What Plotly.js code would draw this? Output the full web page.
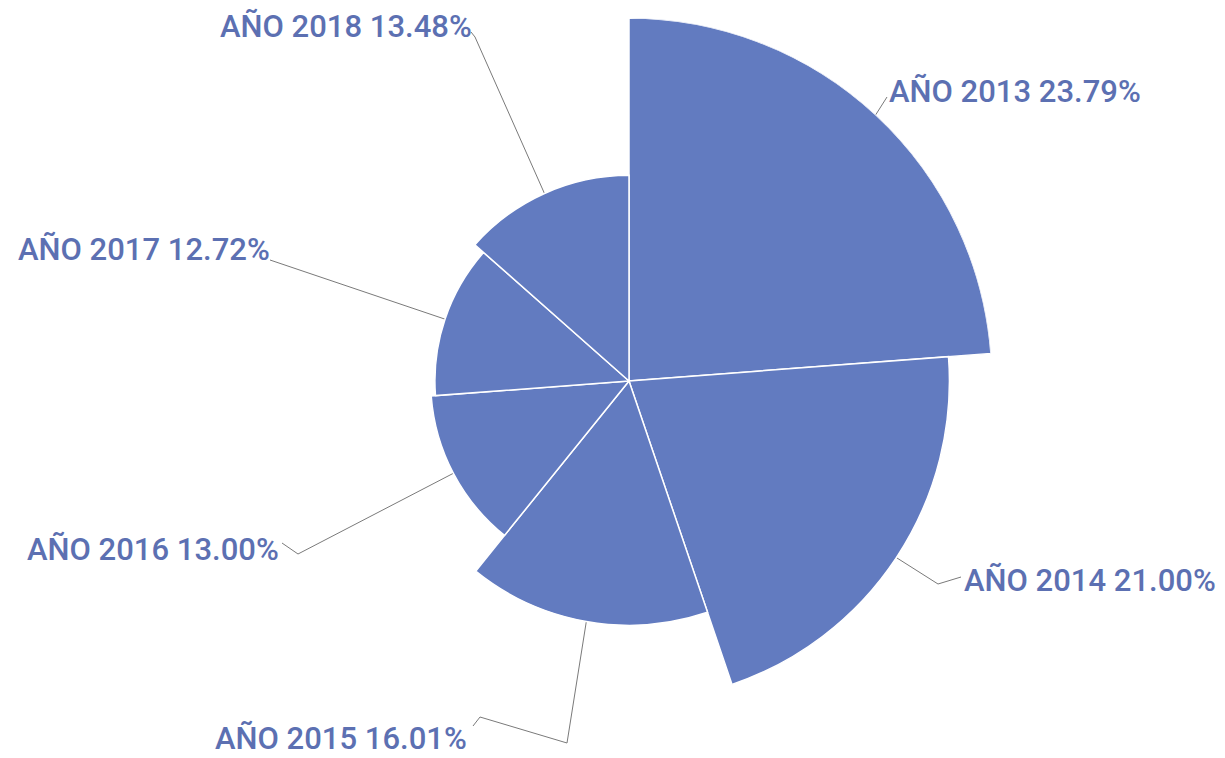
<!DOCTYPE html>
<html>
<head>
<meta charset="utf-8">
<script src="https://cdn.plot.ly/plotly-3.0.1.min.js"></script>
<style>html,body{margin:0;padding:0;background:#fff;}#chart{width:1225px;height:758px;}</style>
</head>
<body>
<div id="chart"></div>
<script>
// ---- data ----
const categories = ["AÑO 2013", "AÑO 2014", "AÑO 2015", "AÑO 2016", "AÑO 2017", "AÑO 2018"];
const values = [23.79, 21.00, 16.01, 13.00, 12.72, 13.48];

// ---- layout constants (pixels) ----
const W = 1225, H = 758;
const CX = 629, CY = 381, R = 363;
const barColor = "rgb(98,123,192)";
const textColor = "rgb(92,112,178)";
const lineColor = "#7a7a7a";

// label placement (text anchor + leader elbow points), pixels
const labelPos = [
  {x: 887, y: 91, anchor: "left",  elbows: [[887, 97]]},
  {x: 962, y: 580, anchor: "left", elbows: [[938, 584], [961, 577]]},
  {x: 469, y: 738, anchor: "right", elbows: [[567, 743], [480, 717], [473, 726]]},
  {x: 281, y: 549, anchor: "right", elbows: [[298, 554], [282, 543]]},
  {x: 272, y: 249, anchor: "right", elbows: [[270, 260]]},
  {x: 474, y: 26, anchor: "right", elbows: [[475, 37], [471, 32]]}
];

const total = values.reduce((a, b) => a + b, 0);
const maxV = Math.max(...values);
let cum = 0;
const thetas = [], widths = [];
values.forEach(v => {
  thetas.push((cum + v / 2) / total * 360);
  widths.push(v / total * 360);
  cum += v;
});

const traces = [{
  type: "barpolar",
  r: values,
  theta: thetas,
  width: widths,
  marker: {color: barColor, line: {color: "#ffffff", width: 1.5}},
  hoverinfo: "none",
  subplot: "polar"
}];

const annotations = [];
values.forEach((v, i) => {
  const a = thetas[i] * Math.PI / 180;
  const rr = v / maxV * R;
  const sx = CX + rr * Math.sin(a), sy = CY - rr * Math.cos(a);
  const pts = [[sx, sy]].concat(labelPos[i].elbows);
  traces.push({
    type: "scatter", mode: "lines",
    x: pts.map(p => p[0]), y: pts.map(p => p[1]),
    xaxis: "x", yaxis: "y",
    line: {color: lineColor, width: 1},
    hoverinfo: "none", showlegend: false
  });
  annotations.push({
    xref: "x", yref: "y",
    x: labelPos[i].x, y: labelPos[i].y,
    xanchor: labelPos[i].anchor, yanchor: "middle",
    text: categories[i] + " " + v.toFixed(2) + "%",
    showarrow: false,
    font: {family: "Roboto", size: 31, color: textColor, weight: 500}
  });
});

const layout = {
  width: W, height: H,
  margin: {l: 0, r: 0, t: 0, b: 0},
  paper_bgcolor: "#ffffff",
  plot_bgcolor: "rgba(0,0,0,0)",
  showlegend: false,
  xaxis: {range: [0, W], visible: false, fixedrange: true, domain: [0, 1]},
  yaxis: {range: [H, 0], visible: false, fixedrange: true, domain: [0, 1]},
  polar: {
    domain: {x: [(CX - R) / W, (CX + R) / W], y: [1 - (CY + R) / H, 1 - (CY - R) / H]},
    bgcolor: "rgba(0,0,0,0)",
    radialaxis: {range: [0, maxV], visible: false, showgrid: false},
    angularaxis: {rotation: 90, direction: "clockwise", visible: false, showgrid: false, showline: false, showticklabels: false, ticks: ""},
    bargap: 0
  },
  annotations: annotations
};

Plotly.newPlot("chart", traces, layout, {displayModeBar: false, staticPlot: true});
</script>
</body>
</html>
